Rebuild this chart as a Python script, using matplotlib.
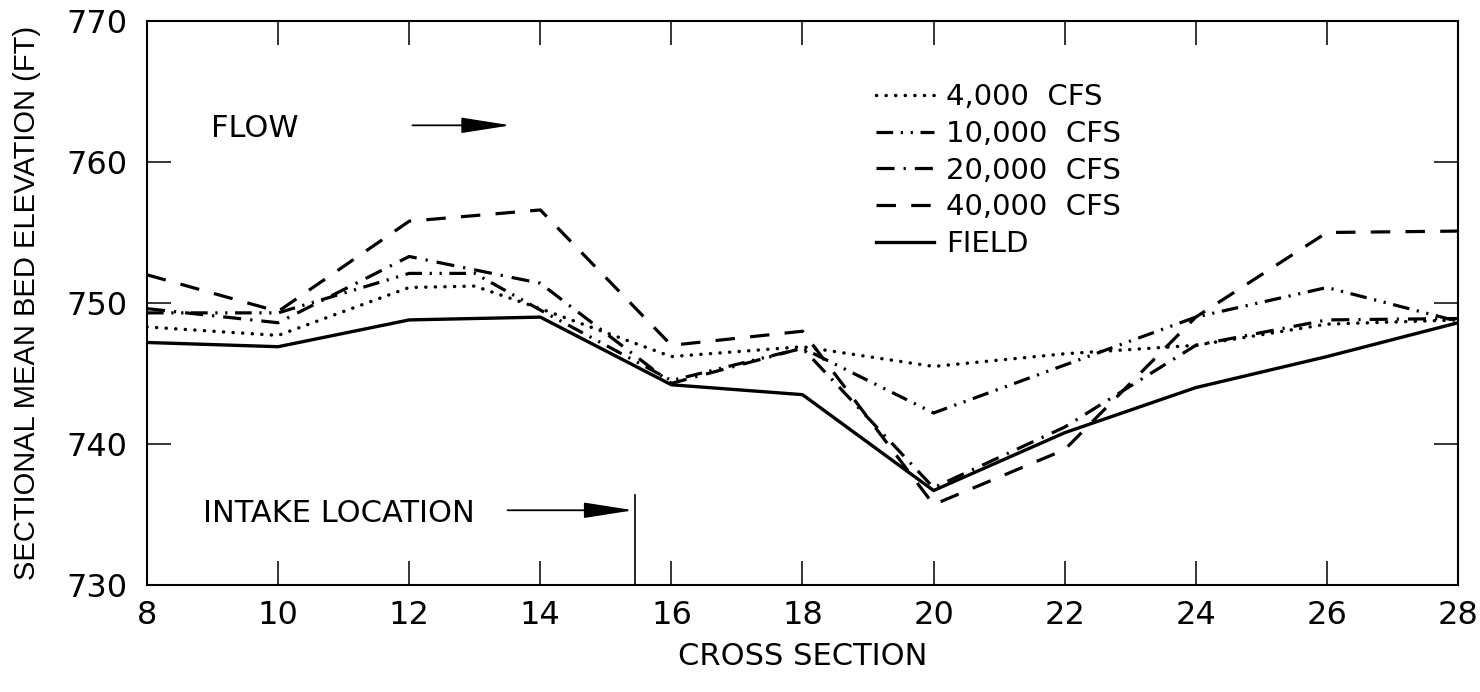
import matplotlib
matplotlib.use("Agg")
import matplotlib.pyplot as plt

plt.rcParams['font.family'] = ['DejaVu Sans']
plt.rcParams['lines.scale_dashes'] = False

# Cross sections and sectional mean bed elevations (ft)
xs_field = [8, 10, 12, 14, 16, 18, 20, 22, 24, 26, 28]
field = [747.2, 746.9, 748.8, 749.0, 744.2, 743.5, 736.7, 740.8, 744.0, 746.2, 748.6]

xs_4k = [8, 10, 12, 13, 14, 16, 18, 20, 22, 24, 26, 28]
cfs_4000 = [748.3, 747.7, 751.1, 751.2, 749.6, 746.2, 746.9, 745.5, 746.4, 747.0, 748.5, 748.8]

xs_10k = [8, 10, 12, 13, 14, 16, 18, 20, 22, 24, 26, 28]
cfs_10000 = [749.3, 749.3, 752.1, 752.1, 749.5, 744.5, 746.8, 742.2, 745.6, 749.0, 751.1, 748.7]

xs_20k = [8, 10, 12, 14, 16, 18, 20, 22, 24, 26, 28]
cfs_20000 = [749.6, 748.6, 753.3, 751.4, 744.3, 746.8, 736.9, 741.2, 747.0, 748.8, 748.9]

xs_40k = [8, 10, 12, 14, 16, 18, 20, 22, 24, 26, 28]
cfs_40000 = [752.0, 749.4, 755.8, 756.6, 747.0, 748.0, 735.7, 739.6, 749.0, 755.0, 755.1]

intake_x = 15.45
intake_top = 736.4

fig = plt.figure(figsize=(14.8, 6.92), dpi=100)
ax = fig.add_axes([147 / 1480, 1 - 585 / 692, (1458 - 147) / 1480, (585 - 21) / 692])

ax.plot(xs_4k, cfs_4000, color='k', lw=2.5, ls=(0, (0.1, 6.8)),
        dash_capstyle='round', label='4,000  CFS')
ax.plot(xs_10k, cfs_10000, color='k', lw=2.3,
        ls=(0, (12, 5.5, 1.6, 5.5, 1.6, 5.5)), label='10,000  CFS')
ax.plot(xs_20k, cfs_20000, color='k', lw=2.3,
        ls=(0, (13, 6.5, 1.6, 6.5)), label='20,000  CFS')
ax.plot(xs_40k, cfs_40000, color='k', lw=2.3,
        ls=(0, (14, 11)), label='40,000  CFS')
ax.plot(xs_field, field, color='k', lw=2.4, label='FIELD')

# intake marker
ax.plot([intake_x, intake_x], [730, intake_top], color='k', lw=1.2)
ax.annotate('', xy=(intake_x - 0.03, 735.3), xytext=(13.5, 735.3),
            arrowprops=dict(arrowstyle='-|>,head_length=1.4,head_width=0.22',
                            mutation_scale=22, color='k', lw=1.3, shrinkA=0, shrinkB=0))
ax.text(8.85, 735.1, 'INTAKE LOCATION', fontsize=22, va='center', ha='left')

ax.text(8.98, 762.4, 'FLOW', fontsize=22, va='center', ha='left')
ax.annotate('', xy=(13.55, 762.6), xytext=(12.05, 762.6),
            arrowprops=dict(arrowstyle='-|>,head_length=1.4,head_width=0.22',
                            mutation_scale=22, color='k', lw=1.3, shrinkA=0, shrinkB=0))

ax.set_xlim(8, 28)
ax.set_ylim(730, 770)
ax.set_xticks(range(8, 29, 2))
ax.set_yticks(range(730, 771, 10))
ax.tick_params(direction='in', top=True, right=True, length=17, width=1.1,
               labelsize=23, colors='k')
ax.tick_params(axis='x', pad=11)
ax.tick_params(axis='y', pad=14)
for s in ax.spines.values():
    s.set_linewidth(1.5)

ax.set_xlabel('CROSS SECTION', fontsize=22, labelpad=8)
ax.set_ylabel('SECTIONAL MEAN BED ELEVATION (FT)', fontsize=21,
              family=['Liberation Sans', 'DejaVu Sans'], labelpad=18)

ax.legend(loc='upper left', bbox_to_anchor=(0.556, 0.89), frameon=False,
          fontsize=21, handlelength=2.0, handletextpad=0.4, labelspacing=0.3,
          borderpad=0, borderaxespad=0)

fig.savefig('out.png', dpi=100, facecolor='white')
